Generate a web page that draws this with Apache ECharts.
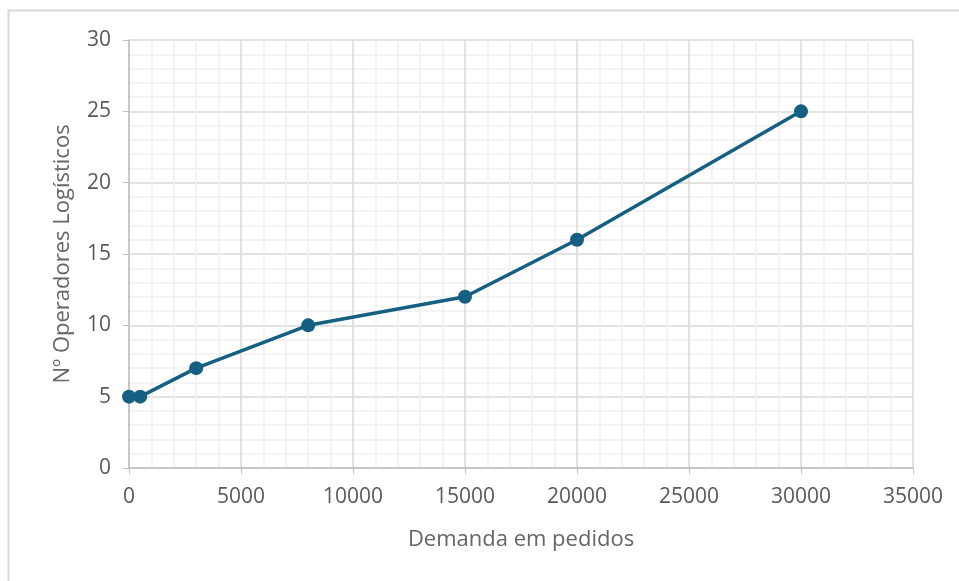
<!DOCTYPE html>
<html>
<head>
<meta charset="utf-8">
<script src="https://cdn.jsdelivr.net/npm/echarts@6/dist/echarts.min.js"></script>
<style>
  html, body { margin: 0; padding: 0; background: #fff; }
  #chart { width: 959px; height: 581px; }
</style>
</head>
<body>
<div id="chart"></div>
<script>
// demanda (pedidos) vs nº operadores
var demanda = [0, 500, 3000, 8000, 15000, 20000, 30000];
var operadores = [5, 5, 7, 10, 12, 16, 25];

var chart = echarts.init(document.getElementById('chart'));
var labelColor = '#595959';

var option = {
  animation: false,
  graphic: [{
    type: 'rect',
    shape: { x: 8.5, y: 10.5, width: 1000, height: 1000 },
    style: { fill: 'none', stroke: '#d9d9d9', lineWidth: 2 },
    silent: true
  }],
  grid: { left: 129, right: 46, top: 40, bottom: 113 },
  xAxis: {
    type: 'value',
    min: 0, max: 35000, interval: 5000,
    name: 'Demanda em pedidos',
    nameLocation: 'middle',
    nameGap: 61,
    nameTextStyle: { color: '#666', fontSize: 22, fontFamily: 'Open Sans' },
    axisLine: { show: true, lineStyle: { color: '#bfbfbf', width: 1.5 } },
    axisTick: { show: true, length: 6, lineStyle: { color: '#bfbfbf' } },
    axisLabel: {
      color: labelColor, fontSize: 21, margin: 19, fontFamily: 'Open Sans',
      formatter: function (v) { return String(v); }
    },
    splitLine: { show: true, lineStyle: { color: '#d9d9d9', width: 1.5 } },
    minorTick: { show: false, splitNumber: 5 },
    minorSplitLine: { show: true, lineStyle: { color: '#f0f0f0', width: 1.5 } }
  },
  yAxis: {
    type: 'value',
    min: 0, max: 30, interval: 5,
    name: 'Nº Operadores Logísticos',
    nameLocation: 'middle',
    nameGap: 55,
    nameTextStyle: { color: '#666', fontSize: 22, fontFamily: 'Open Sans' },
    axisLine: { show: true, lineStyle: { color: '#bfbfbf', width: 1.5 } },
    axisTick: { show: true, length: 6, lineStyle: { color: '#bfbfbf' } },
    axisLabel: { color: labelColor, fontSize: 21, margin: 18, fontFamily: 'Open Sans' },
    splitLine: { show: true, lineStyle: { color: '#d9d9d9', width: 1.5 } },
    minorTick: { show: false, splitNumber: 5 },
    minorSplitLine: { show: true, lineStyle: { color: '#f0f0f0', width: 1.5 } }
  },
  series: [{
    type: 'line',
    data: demanda.map(function (d, i) { return [d, operadores[i]]; }),
    symbol: 'circle',
    symbolSize: 14,
    lineStyle: { color: '#156082', width: 3.5 },
    itemStyle: { color: '#156082' }
  }]
};
chart.setOption(option);
</script>
</body>
</html>
